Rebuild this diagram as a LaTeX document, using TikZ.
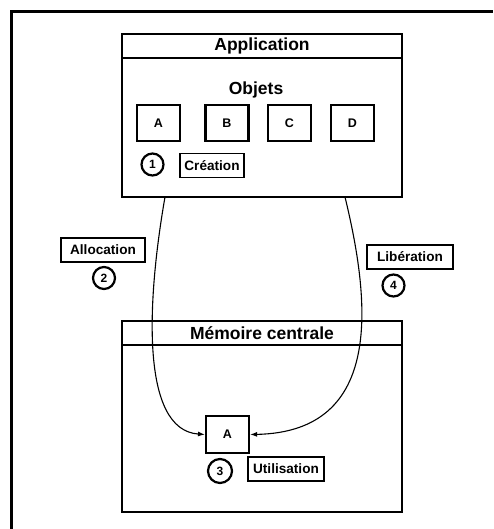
\documentclass[tikz,border=0pt]{standalone}
\usepackage{fontspec}
\setmainfont{Liberation Sans}
\usetikzlibrary{arrows.meta,positioning}

\tikzset{
  panel/.style={draw, line width=2.6pt, minimum width=280pt, inner sep=0pt},
  paneltitle/.style={draw, line width=2pt, minimum width=280pt, minimum height=24pt, inner sep=0pt, font=\fontsize{17.5}{20}\selectfont\bfseries},
  objbox/.style={draw, line width=2.2pt, minimum width=43pt, minimum height=36pt, inner sep=0pt, font=\fontsize{12.5}{14}\selectfont\bfseries},
  stepnum/.style={circle, draw, line width=2.2pt, minimum size=22pt, inner sep=0pt, font=\fontsize{12}{14}\selectfont\bfseries},
  steplabel/.style={draw, line width=1.4pt, minimum height=24pt, inner sep=0pt, font=\fontsize{13.6}{16}\selectfont\bfseries},
  flow/.style={line width=1.1pt, -{Latex[length=7pt,width=5pt]}}
}

\begin{document}
\begin{tikzpicture}[x=1pt, y=-1pt]
  \useasboundingbox (0,0) rectangle (493,529);
  \draw[line width=2.8pt] (11.5,529) -- (11.5,11.5) -- (493,11.5);

  \node[panel, minimum height=163pt] (app) at (262,115.5) {};
  \node[paneltitle] (appTitle) at (262,46) {Application};
  \node[font=\fontsize{17.5}{20}\selectfont\bfseries] (objTitle) at (256,90) {Objets};
  \node[objbox] (objA) at (158.5,123) {A};
  \node[objbox] (objB) at (227,123) {B};
  \node[objbox] (objC) at (289.5,123) {C};
  \node[objbox] (objD) at (352.5,123) {D};
  \node[stepnum] (n1) at (152.5,164.5) {1};
  \node[steplabel, minimum width=64pt] (lab1) at (212,165.5) {Création};

  \node[steplabel, minimum width=84pt] (lab2) at (103,250) {Allocation};
  \node[stepnum] (n2) at (104,278) {2};
  \node[steplabel, minimum width=86pt] (lab4) at (410,257) {Libération};
  \node[stepnum] (n4) at (393.5,285.5) {4};

  \node[panel, minimum height=191pt] (mem) at (262,416.5) {};
  \node[paneltitle] (memTitle) at (262,333) {Mémoire centrale};
  \node[objbox, minimum height=37pt] (memA) at (227.5,434.5) {A};
  \node[stepnum, minimum size=24pt] (n3) at (220,471) {3};
  \node[steplabel, minimum width=76pt] (lab3) at (286,469) {Utilisation};

  \coordinate (allocStart) at (165,197);
  \coordinate (libStart) at (345,197);
  \draw[flow] (allocStart) .. controls (147,300) and (140,430) .. (memA.west);
  \draw[flow] (libStart) .. controls (370,300) and (385,432) .. (memA.east);
\end{tikzpicture}
\end{document}
